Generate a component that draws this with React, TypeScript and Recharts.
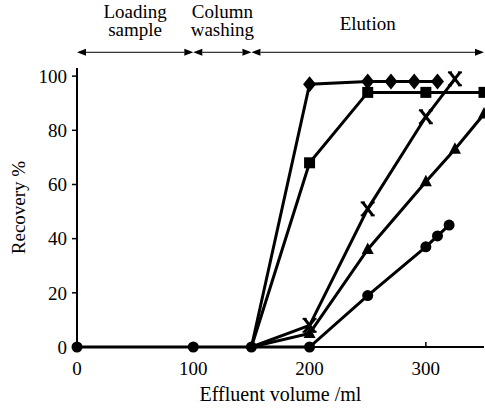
import { Line, LineChart, ReferenceLine, XAxis, YAxis } from "recharts";

// effluent volume (ml) and recovery (%) per series
const diamondVol = [150, 200, 250, 270, 290, 310];
const diamondRec = [0, 97, 98, 98, 98, 98];
const squareVol = [150, 200, 250, 300, 350];
const squareRec = [0, 68, 94, 94, 94];
const crossVol = [150, 200, 250, 300, 325];
const crossRec = [0, 8, 51, 85, 99];
const triangleVol = [150, 200, 250, 300, 325, 350];
const triangleRec = [0, 5, 36, 61, 73, 86];
const circleVol = [0, 100, 150, 200, 250, 300, 310, 320];
const circleRec = [0, 0, 0, 0, 19, 37, 41, 45];

const xTicks = [0, 100, 200, 300];
const yTicks = [0, 20, 40, 60, 80, 100];

// process phases along the volume axis
const phaseBounds = [0, 100, 150, 350];
const phaseLabels = [["Loading", "sample"], ["Column", "washing"], ["Elution"]];
const phaseArrowLevel = 108.8;

const FONT = "'Liberation Serif', 'Times New Roman', serif";

const toData = (vol: number[], rec: number[]) => vol.map((v, i) => ({ vol: v, rec: rec[i] }));

const series = [
  { name: "diamond", data: toData(diamondVol, diamondRec) },
  { name: "square", data: toData(squareVol, squareRec) },
  { name: "cross", data: toData(crossVol, crossRec) },
  { name: "triangle", data: toData(triangleVol, triangleRec) },
  { name: "circle", data: toData(circleVol, circleRec) },
];

const Marker = ({ kind, cx, cy }: { kind: string; cx: number; cy: number }) => {
  if (kind === "circle") return <circle cx={cx} cy={cy} r={5.5} fill="#000" />;
  if (kind === "square") return <rect x={cx - 5.5} y={cy - 5.5} width={11} height={11} fill="#000" />;
  if (kind === "diamond")
    return <polygon points={`${cx},${cy - 8} ${cx + 6.5},${cy} ${cx},${cy + 8} ${cx - 6.5},${cy}`} fill="#000" />;
  if (kind === "triangle")
    return <polygon points={`${cx},${cy - 7} ${cx + 6},${cy + 4.5} ${cx - 6},${cy + 4.5}`} fill="#000" />;
  // cross with short caps
  return (
    <g stroke="#000" fill="none">
      <line x1={cx - 5} y1={cy - 6.5} x2={cx + 5} y2={cy + 6.5} strokeWidth={3} />
      <line x1={cx + 5} y1={cy - 6.5} x2={cx - 5} y2={cy + 6.5} strokeWidth={3} />
      <line x1={cx - 7} y1={cy - 6.5} x2={cx - 3} y2={cy - 6.5} strokeWidth={2} />
      <line x1={cx + 3} y1={cy - 6.5} x2={cx + 7} y2={cy - 6.5} strokeWidth={2} />
      <line x1={cx - 7} y1={cy + 6.5} x2={cx - 3} y2={cy + 6.5} strokeWidth={2} />
      <line x1={cx + 3} y1={cy + 6.5} x2={cx + 7} y2={cy + 6.5} strokeWidth={2} />
    </g>
  );
};

const PhaseArrow = (props: any) => {
  const { x1, y1, x2, lines } = props;
  const y = y1;
  const head = 9;
  const cx = (x1 + x2) / 2;
  const baselines = lines.length === 1 ? [-22] : [-34, -16];
  return (
    <g>
      <line x1={x1 + head} y1={y} x2={x2 - head} y2={y} stroke="#000" strokeWidth={1} />
      <polygon points={`${x1},${y} ${x1 + head},${y - 3.5} ${x1 + head},${y + 3.5}`} fill="#000" />
      <polygon points={`${x2},${y} ${x2 - head},${y - 3.5} ${x2 - head},${y + 3.5}`} fill="#000" />
      {lines.map((t: string, i: number) => (
        <text key={t} x={cx} y={y + baselines[i]} textAnchor="middle" fontSize={19} fontFamily={FONT} fill="#000">
          {t}
        </text>
      ))}
    </g>
  );
};

const XTick = (props: any) => {
  const { x, y, payload } = props;
  return (
    <g>
      <line x1={x} y1={y} x2={x} y2={y - 5} stroke="#000" strokeWidth={1.5} />
      <text x={x} y={y + 28} textAnchor="middle" fontSize={19} fontFamily={FONT} fill="#000">
        {payload.value}
      </text>
    </g>
  );
};

const App = () => {
  return (
    <div style={{ fontFamily: FONT, position: "absolute", left: 0, top: 0 }}>
      <LineChart width={485} height={409} margin={{ top: 68, right: 1, bottom: 2, left: 0 }}>
        <XAxis
          dataKey="vol"
          type="number"
          domain={[0, 350]}
          ticks={xTicks}
          height={60}
          tickSize={0}
          tickMargin={0}
          tick={<XTick />}
          axisLine={{ stroke: "#000", strokeWidth: 2 }}
          label={{ value: "Effluent volume /ml", position: "insideBottom", offset: 6, fill: "#000", fontSize: 20 }}
        />
        <XAxis xAxisId="top" orientation="top" type="number" domain={[0, 350]} height={0} tick={false} tickLine={false} axisLine={{ stroke: "#000", strokeWidth: 2 }} />
        <YAxis
          type="number"
          domain={[0, 103]}
          ticks={yTicks}
          width={77}
          tickSize={5}
          tickMargin={5}
          tick={{ fill: "#000", fontSize: 19 }}
          tickLine={{ stroke: "#000", strokeWidth: 1.5 }}
          axisLine={{ stroke: "#000", strokeWidth: 2 }}
          label={{ value: "Recovery %", angle: -90, position: "insideLeft", offset: 18, fill: "#000", fontSize: 19, style: { textAnchor: "middle" } }}
        />
        <YAxis yAxisId="right" orientation="right" width={0} tick={false} tickLine={false} axisLine={{ stroke: "#000", strokeWidth: 2 }} />
        {phaseLabels.map((lines, i) => (
          <ReferenceLine
            key={lines[0]}
            ifOverflow="visible"
            segment={[
              { x: phaseBounds[i], y: phaseArrowLevel },
              { x: phaseBounds[i + 1], y: phaseArrowLevel },
            ]}
            shape={(p: any) => <PhaseArrow {...p} lines={lines} />}
          />
        ))}
        {series.map((s) => (
          <Line
            key={s.name}
            data={s.data}
            dataKey="rec"
            type="linear"
            stroke="#000"
            strokeWidth={3}
            isAnimationActive={false}
            dot={(p: any) => {
              const hide = s.name !== "circle" && p.payload.vol === 150;
              return hide ? <g key={`${s.name}-${p.index}`} /> : <Marker key={`${s.name}-${p.index}`} kind={s.name} cx={p.cx} cy={p.cy} />;
            }}
            activeDot={false}
          />
        ))}
      </LineChart>
    </div>
  );
};

export default App;
